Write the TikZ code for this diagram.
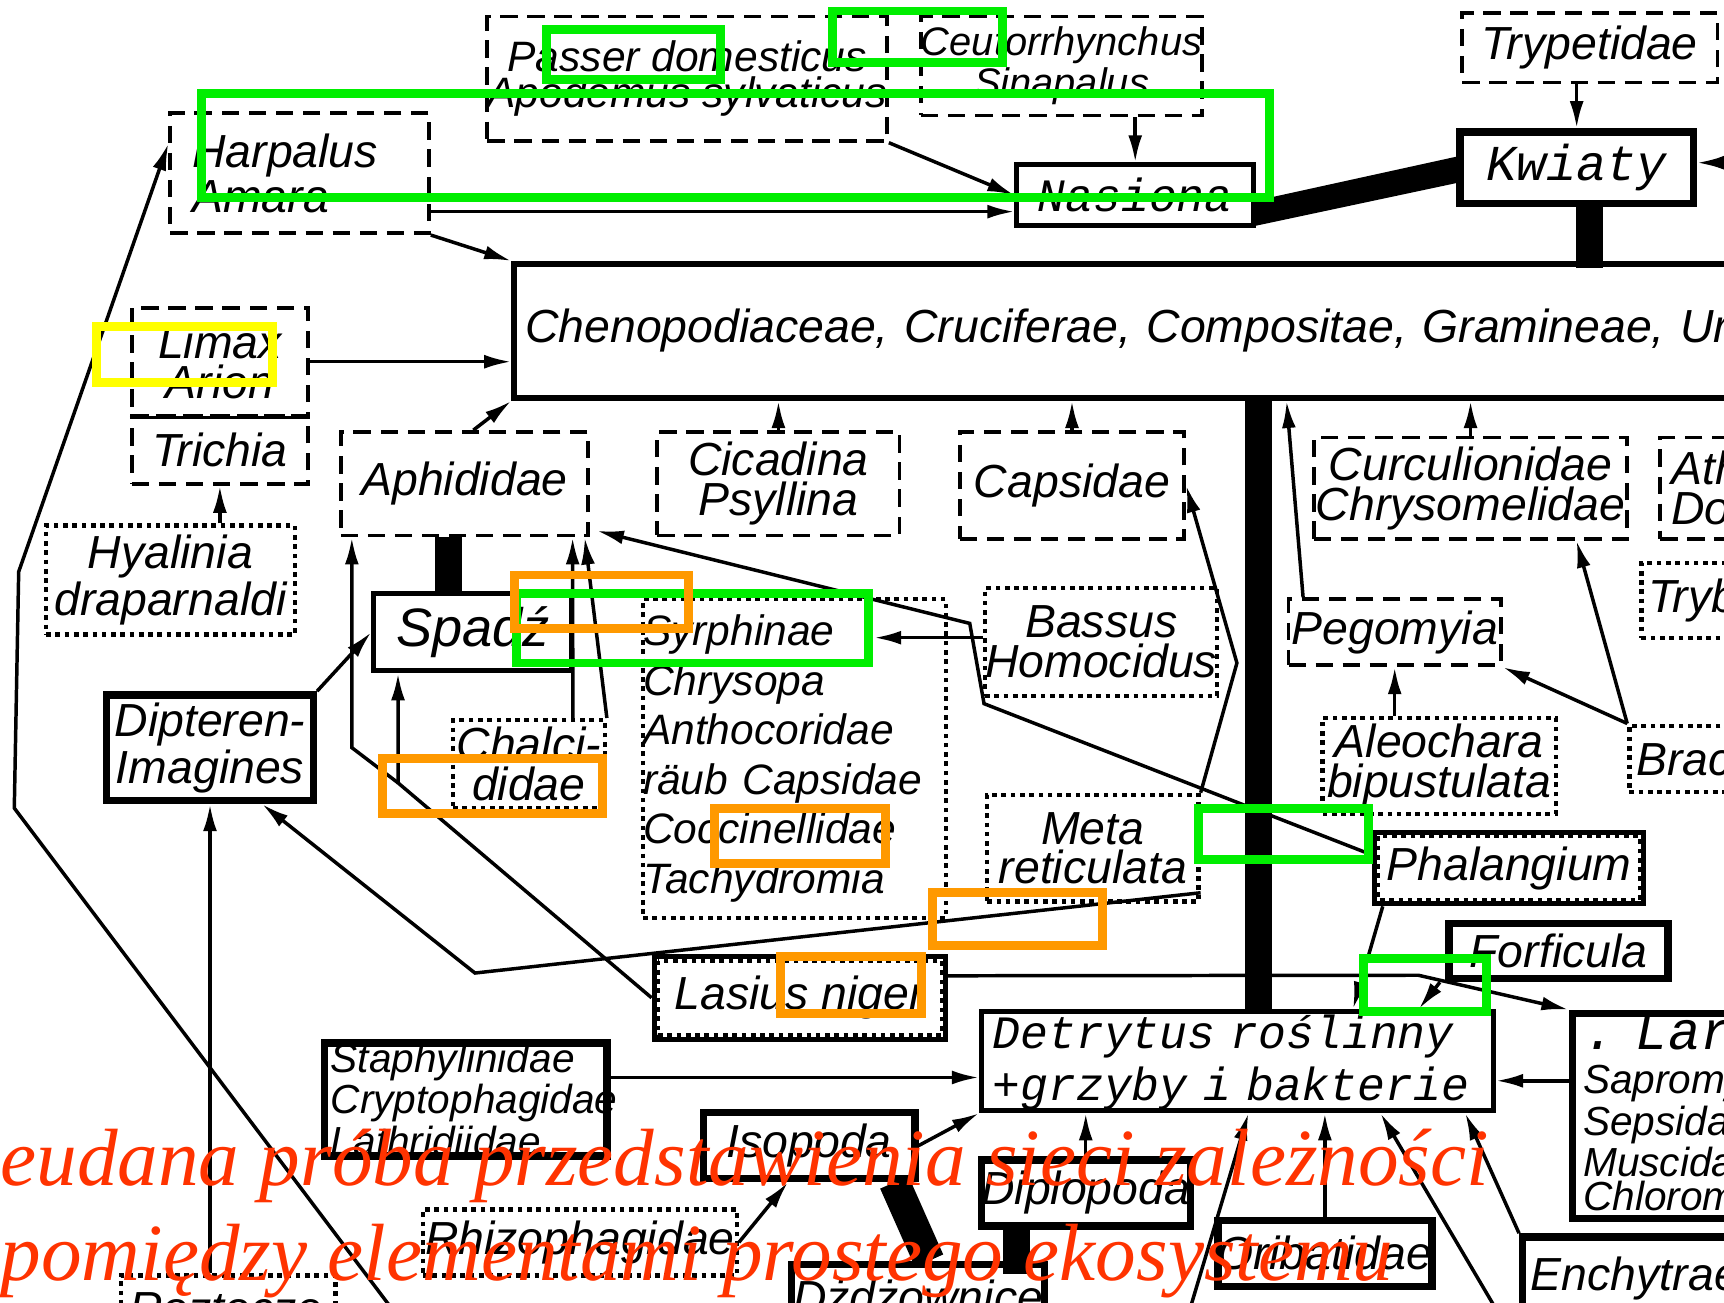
\documentclass[tikz,border=0pt]{standalone}
\usepackage{fontspec}
\usetikzlibrary{calc,arrows.meta}
\newfontfamily\scanfont{Liberation Sans}
\newfontfamily\monofont{Liberation Mono}
\newfontfamily\capfont{Liberation Serif}
\definecolor{hlgreen}{RGB}{0,238,0}
\definecolor{hlyellow}{RGB}{255,255,0}
\definecolor{hlorange}{RGB}{255,153,0}
\definecolor{capred}{RGB}{255,51,0}
\begin{document}
\begin{tikzpicture}[x=0.01cm, y=-0.01cm, >={Latex[length=7pt,width=3.6pt]},
	txt/.style={inner sep=0pt, align=center, font=\scanfont\itshape\fontsize{12}{10.3}\selectfont},
	dashbox/.style={txt, draw, line width=1pt, dash pattern=on 4.5pt off 2.5pt},
	dotbox/.style={txt, draw, line width=1.1pt, dash pattern=on 1.2pt off 1.2pt},
	solbox/.style={txt, draw, line width=1.3pt},
	heavybox/.style={txt, draw, line width=1.9pt},
	mono/.style={font=\monofont\itshape\fontsize{12}{13.6}\selectfont},
	con/.style={line width=0.9pt, ->},
	link/.style={line width=0.9pt},
	bar/.style={line width=7pt},
	hl/.style={line width=2.3pt},
	captxt/.style={anchor=base west, inner sep=0pt, text=capred, font=\capfont\itshape\fontsize{21}{21}\selectfont}]
	\useasboundingbox (0,0) rectangle (1568,1185);
	\fill[white] (0,0) rectangle (1568,1185);

	% top row
	\node[dashbox, minimum width=3.5cm, minimum height=1.13cm, font=\scanfont\itshape\fontsize{11}{9.4}\selectfont] (passer) at (625,71.5) {Passer domesticus\\Apodemus sylvaticus};
	\node[dashbox, minimum width=2.55cm, minimum height=0.9cm, font=\scanfont\itshape\fontsize{10.3}{9.4}\selectfont] (ceuto) at (965.5,60) {Ceutorrhynchus\\Sinapalus};
	\node[dashbox, minimum width=2.32cm, minimum height=0.63cm] (tryp) at (1446,43.5) {Trypetidae};
	\node[dashbox, minimum width=2.35cm, minimum height=1.09cm, align=left, text width=1.95cm] (harp) at (272.5,157.5) {Harpalus\\Amara};
	\node[solbox, mono, minimum width=2.15cm, minimum height=0.55cm] (nas) at (1032.5,177.5) {Nasiona};
	\node[heavybox, minimum width=2.12cm, minimum height=0.65cm, font=\monofont\itshape\fontsize{13}{14}\selectfont] (kwi) at (1434,152.5) {Kwiaty};
	\node[solbox, line width=1.5pt, anchor=west, minimum height=1.22cm, inner xsep=0.1cm, align=left, text width=14cm] (cheno) at (465,301) {Chenopodiaceae, Cruciferae, Compositae, Gramineae, Urticaceae};

	% left column
	\node[dashbox, minimum width=1.6cm, minimum height=0.98cm] (limax) at (200,329) {Limax\\Arion};
	\node[dashbox, minimum width=1.6cm, minimum height=0.62cm] (trich) at (200,409) {Trichia};
	\draw[link] (limax.south west) -- (limax.south east);
	\node[dotbox, minimum width=2.26cm, minimum height=0.99cm] (hyal) at (155,527.5) {Hyalinia\\draparnaldi};
	\node[heavybox, minimum width=1.88cm, minimum height=0.96cm] (dipt) at (191,680) {Dipteren-\\Imagines};

	% middle
	\node[dashbox, minimum width=2.25cm, minimum height=0.94cm] (aph) at (422.5,440) {Aphididae};
	\node[solbox, minimum width=1.8cm, minimum height=0.7cm, font=\scanfont\itshape\fontsize{14}{14}\selectfont] (spadz) at (430,575) {Spadź};
	\node[dotbox, minimum width=1.38cm, minimum height=0.8cm] (chal) at (481,695) {Chalci-\\didae};
	\node[dashbox, minimum width=2.2cm, minimum height=0.94cm] (cic) at (708,440) {Cicadina\\Psyllina};
	\node[dashbox, minimum width=2.04cm, minimum height=0.97cm] (caps) at (975,441.5) {Capsidae};
	\node[dotbox, minimum width=2.75cm, minimum height=2.9cm, align=left, text width=2.75cm, font=\scanfont\itshape\fontsize{11}{12.8}\selectfont] (syr) at (722.5,690) {Syrphinae\\Chrysopa\\Anthocoridae\\räub Capsidae\\Coccinellidae\\Tachydromia};
	\node[dotbox, minimum width=2.07cm, minimum height=0.98cm] (bass) at (1001.5,584) {Bassus\\Homocidus};
	\node[dotbox, minimum width=1.92cm, minimum height=0.97cm] (meta) at (994,771.5) {Meta\\reticulata};
	\node[solbox, minimum width=2.65cm, minimum height=0.75cm] (las) at (727.5,907.5) {Lasius niger};
	\draw[line width=1pt, dash pattern=on 1.2pt off 1.2pt] ($(las.north west)+(6,6)$) rectangle ($(las.south east)+(-6,-6)$);

	% right side
	\node[dashbox, minimum width=2.85cm, minimum height=0.92cm] (curc) at (1337.5,444) {Curculionidae\\Chrysomelidae};
	\node[dashbox, minimum width=1.7cm, minimum height=0.92cm, align=left, text width=1.5cm] (ath) at (1595,444) {Athalia\\Dolerus};
	\node[dotbox, minimum width=2.07cm, minimum height=0.68cm, align=left, text width=1.95cm] (tryb) at (1596.5,546) {Trybliographa};
	\node[dashbox, minimum width=1.93cm, minimum height=0.6cm] (peg) at (1268.5,575) {Pegomyia};
	\node[dotbox, minimum width=2.12cm, minimum height=0.87cm] (aleo) at (1309,696.5) {Aleochara\\bipustulata};
	\node[dotbox, minimum width=2.18cm, minimum height=0.6cm, align=left, text width=2.05cm] (brac) at (1591,690) {Braconidae};
	\node[solbox, minimum width=2.45cm, minimum height=0.65cm] (phal) at (1372.5,789.5) {Phalangium};
	\draw[line width=1pt, dash pattern=on 1.2pt off 1.2pt] ($(phal.north west)+(6,6)$) rectangle ($(phal.south east)+(-6,-6)$);
	\node[heavybox, minimum width=1.99cm, minimum height=0.5cm] (forf) at (1417.5,865) {Forficula};

	% detritus and soil fauna
	\node[solbox, line width=1.4pt, mono, minimum width=4.65cm, minimum height=0.9cm, align=left, text width=4.45cm] (detr) at (1125.5,965) {\rule{0pt}{9.5pt}Detrytus roślinny\\+grzyby i bakterie};
	\node[heavybox, minimum width=2.2cm, minimum height=1.7cm, align=left, text width=2.0cm, font=\scanfont\itshape\fontsize{10.5}{8.6}\selectfont] (larw) at (1540,1015) {{\monofont\fontsize{14}{16}\selectfont. Larwy}\\Sapromyzidae\\Sepsidae\\Muscidae\\Chloromyia};
	\node[heavybox, minimum width=2.57cm, minimum height=1.0cm, align=left, text width=2.45cm, font=\scanfont\itshape\fontsize{10.5}{9.7}\selectfont] (staph) at (423.5,1000) {Staphylinidae\\Cryptophagidae\\Lathridiidae};
	\node[heavybox, minimum width=1.92cm, minimum height=0.6cm] (isop) at (736,1042) {Isopoda};
	\node[heavybox, minimum width=1.75cm, minimum height=0.6cm] (dipl) at (987.5,1085) {Diplopoda};
	\node[heavybox, minimum width=1.9cm, minimum height=0.6cm] (orib) at (1205,1140) {Oribatidae};
	\node[heavybox, minimum width=2.65cm, minimum height=0.75cm, align=left, text width=2.5cm] (ench) at (1517.5,1162.5) {Enchytraeidae};
	\node[dotbox, minimum width=2.85cm, minimum height=0.6cm] (rhiz) at (527.5,1130) {Rhizophagidae};
	\node[heavybox, minimum width=2.3cm, minimum height=0.6cm] (dzdz) at (835,1180) {Dżdżownice};
	\node[dotbox, minimum width=1.95cm, minimum height=0.6cm, align=left, text width=1.8cm] (rozt) at (207.5,1190) {Roztocze};

	% heavy flows
	\fill ($(nas.east)+(0,5)$) -- ($(kwi.west)+(0,-10)$) -- ($(kwi.west)+(0,14)$) -- ($(nas.south east)+(0,-2)$) -- cycle;
	\draw[bar] ($(kwi.south)+(12,0)$) -- ($(kwi.south)+(12,55)$);
	\draw[bar] ($(aph.south)+(-15,0)$) -- ($(aph.south)+(-15,53)$);
	\coordinate (barD) at ($(detr.north)+(19.5,0)$);
	\draw[bar] (barD) -- (barD |- cheno.south);
	\draw[line width=8pt] ($(isop.south east)+(-22,0)$) -- ($(dzdz.north)+(10,0)$);
	\draw[bar] ($(dipl.south west)+(35,0)$) -- ($(dipl.south west)+(35,40)$);

	% connectors
	\draw[con] (kwi.north |- tryp.south) -- (kwi.north);
	\coordinate (kwiR) at (1600,148);
	\draw[con] (kwiR) -- (kwiR -| kwi.east);
	\draw[con] (passer.south east) -- (nas.west);
	\draw[con] (nas.north |- ceuto.south) -- (nas.north);
	\coordinate (nasL) at ($(nas.west)+(0,15)$);
	\draw[con] (nasL -| harp.east) -- (nasL);
	\draw[con] (harp.south east) -- (cheno.north west);
	\coordinate (lowL) at (375,1215);
	\draw[con] (lowL) -- (13,735) -- (17,520) -- ($(harp.west)+(0,-27)$);
	\draw[con] (limax.east) -- (limax.east -| cheno.west);
	\draw[con] (trich.south |- hyal.north) -- (trich.south);
	\draw[con] ($(aph.north)+(8,0)$) -- (cheno.south west);
	\draw[con] (dipt.north east) -- (spadz.west);
	\coordinate (lk) at (362,712);
	\coordinate (lk2) at (320,680);
	\draw[con] (las.west) -- (lk) -- (lk |- spadz.south);
	\draw[con] (lk) -- (lk2) -- (lk2 |- aph.south);
	\draw[con] (chal.north east) -- ($(aph.south east)+(-5,0)$);
	\draw[con] ($(chal.north)+(40,0)$) -- ($(aph.south east)+(-16,0)$);
	\coordinate (p1) at (895,640);
	\coordinate (p2) at (882,567);
	\draw[con] ($(phal.west)+(0,-12)$) -- (p1) -- (p2) -- ($(aph.south east)+(6,-6)$);
	\coordinate (syrT) at (795,580);
	\draw[con] (bass.west |- syrT) -- (syrT);
	\coordinate (m1) at (1125,603);
	\draw[con] (meta.north east) -- (m1) -- (caps.east);
	\coordinate (m2) at (432,885);
	\draw[con] ($(meta.south east)+(0,-10)$) -- (m2) -- ($(dipt.south east)+(-50,0)$);
	\draw[con] (cic.north) -- (cic.north |- cheno.south);
	\draw[con] (caps.north) -- (caps.north |- cheno.south);
	\draw[con] (curc.north) -- (curc.north |- cheno.south);
	\draw[con] ($(peg.north west)+(15,0)$) -- (cheno.south -| peg.north west);
	\draw[con] (peg.south |- aleo.north) -- (peg.south);
	\draw[con] (brac.north west) -- (peg.south east);
	\draw[con] (brac.north west) -- ($(curc.south east)+(-48,0)$);
	\draw[con] ($(phal.south west)+(10,0)$) -- ($(detr.north east)+(-130,0)$);
	\draw[con] ($(forf.south west)+(-5,0)$) -- ($(detr.north east)+(-70,0)$);
	\coordinate (l1) at (1290,887);
	\draw[con] ($(las.east)+(0,-20)$) -- (l1) -- (larw.north west);
	\coordinate (larL) at ($(larw.west)+(0,-32)$);
	\draw[con] (larL) -- (larL -| detr.east);
	\coordinate (stR) at ($(staph.east)+(0,-20)$);
	\draw[con] (stR) -- (stR -| detr.west);
	\draw[con] (isop.east) -- (detr.south west);
	\draw[con] (dipl.north) -- (dipl.north |- detr.south);
	\draw[con] (orib.north) -- (orib.north |- detr.south);
	\coordinate (lowM) at (1075,1215);
	\draw[con] (lowM) -- ($(detr.south)+(10,0)$);
	\coordinate (lowR) at (1375,1215);
	\draw[con] (lowR) -- ($(detr.south east)+(-105,0)$);
	\draw[con] (ench.north west) -- ($(detr.south east)+(-28,0)$);
	\draw[con] (rhiz.east) -- ($(isop.south west)+(80,0)$);
	\draw[con] (rozt.north -| dipt.south) -- (dipt.south);

	% highlight frames
	\draw[hl, hlgreen] (497,27) rectangle (655,72);
	\draw[hl, hlgreen] (757,10) rectangle (912,57);
	\draw[hl, hlgreen] (183,85) rectangle (1155,180);
	\draw[hl, hlgreen] (470,540) rectangle (790,603);
	\draw[hl, hlgreen] (1090,735) rectangle (1245,782);
	\draw[hl, hlgreen] (1240,872) rectangle (1352,920);
	\draw[hl, hlyellow] (88,297) rectangle (248,348);
	\draw[hl, hlorange] (468,523) rectangle (626,572);
	\draw[hl, hlorange] (348,690) rectangle (548,740);
	\draw[hl, hlorange] (650,735) rectangle (805,785);
	\draw[hl, hlorange] (848,812) rectangle (1003,860);
	\draw[hl, hlorange] (710,870) rectangle (838,922);

	% caption
	\node[captxt] (cap1) at (-70,1078) {Nieudana próba przedstawienia sieci zależności};
	\node[captxt] (cap2) at (0,1165) {pomiędzy elementami prostego ekosystemu};
\end{tikzpicture}
\end{document}
